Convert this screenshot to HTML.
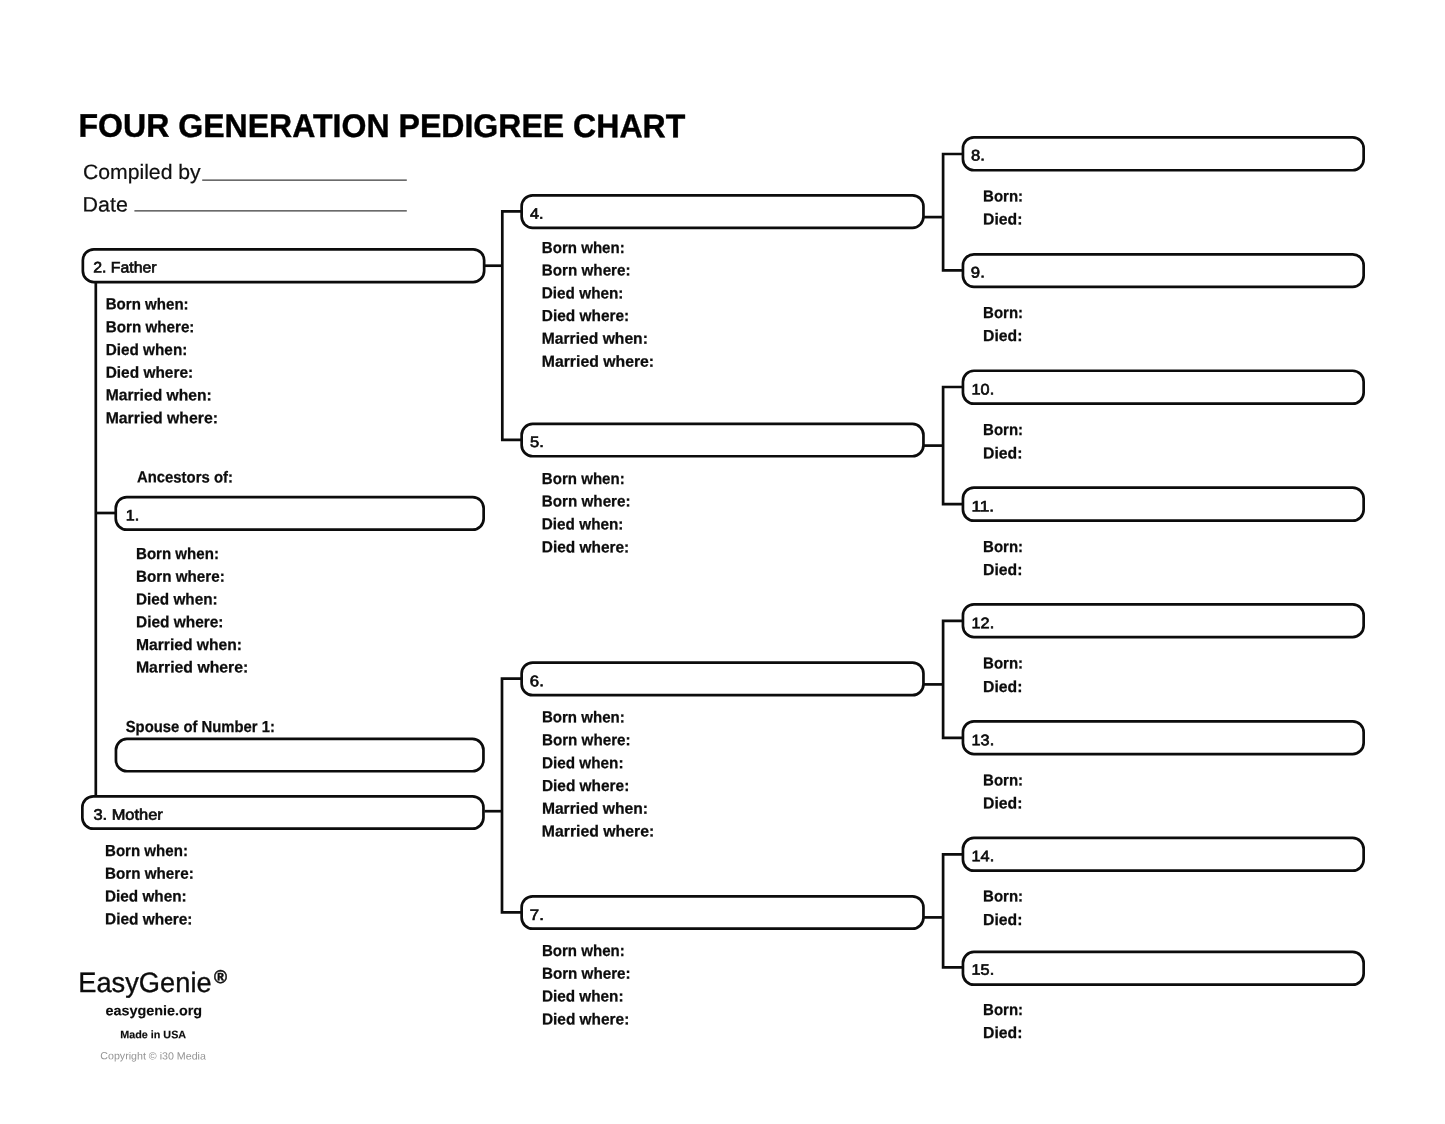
<!DOCTYPE html>
<html lang="en">
<head>
<meta charset="utf-8">
<title>Four Generation Pedigree Chart</title>
<style>
html,body{margin:0;padding:0;background:#fff;}
body{width:1445px;height:1124px;overflow:hidden;}
svg{display:block;will-change:transform;}
text{font-family:"Liberation Sans",sans-serif;fill:#0c0c0c;}
.l{font-size:16px;font-weight:bold;}
.n{font-size:15.3px;}
.title{font-size:32.7px;font-weight:bold;}
.hd{font-size:20.8px;}
.brand{font-size:28.0px;}
.reg{font-size:18.5px;font-weight:bold;}
.url{font-size:13.9px;font-weight:bold;}
.made{font-size:10.9px;font-weight:bold;}
.copy{font-size:10.4px;}
.l{stroke:#0c0c0c;stroke-width:0.25px;}
.n{stroke:#0c0c0c;stroke-width:0.65px;}
.brand{stroke:#0c0c0c;stroke-width:0.35px;}
.url{stroke:#0c0c0c;stroke-width:0.15px;}
.made{stroke:#0c0c0c;stroke-width:0.15px;}
.reg{stroke:#0c0c0c;stroke-width:0.5px;}
.hd{stroke:#0c0c0c;stroke-width:0.2px;}
.title{stroke:#000;stroke-width:0.4px;}

.title{fill:#000;}
.hd{fill:#111;}
.copy{fill:#949494;}
</style>
</head>
<body>
<svg width="1445" height="1124" viewBox="0 0 1445 1124">
<rect x="0" y="0" width="1445" height="1124" fill="#ffffff"/>
<g fill="none" stroke="#0c0c0c" stroke-width="2.7" stroke-linejoin="miter">
<rect x="82.85" y="249.35" width="401.30" height="32.70" rx="11" ry="11"/>
<rect x="115.75" y="497.15" width="367.90" height="32.50" rx="11" ry="11"/>
<rect x="115.95" y="738.95" width="367.50" height="32.30" rx="11" ry="11"/>
<rect x="82.35" y="796.35" width="401.10" height="32.30" rx="11" ry="11"/>
<path d="M95.80 283.00L95.80 796.00"/>
<path d="M95.80 513.00L115.00 513.00"/>
<path d="M485.00 265.70L502.30 265.70"/>
<path d="M521.00 211.40L502.30 211.40L502.30 439.80L521.00 439.80"/>
<path d="M484.50 811.20L502.00 811.20"/>
<path d="M521.00 678.70L502.00 678.70L502.00 912.30L521.00 912.30"/>
<rect x="521.65" y="195.35" width="401.80" height="32.50" rx="11" ry="11"/>
<rect x="521.65" y="423.95" width="401.80" height="32.30" rx="11" ry="11"/>
<rect x="521.65" y="662.55" width="401.80" height="32.60" rx="11" ry="11"/>
<rect x="521.65" y="896.35" width="401.80" height="32.30" rx="11" ry="11"/>
<rect x="962.95" y="137.35" width="400.70" height="32.90" rx="11" ry="11"/>
<rect x="962.95" y="254.35" width="400.70" height="32.50" rx="11" ry="11"/>
<rect x="962.95" y="370.75" width="400.70" height="32.90" rx="11" ry="11"/>
<rect x="962.95" y="487.55" width="400.70" height="33.10" rx="11" ry="11"/>
<rect x="962.95" y="604.35" width="400.70" height="32.70" rx="11" ry="11"/>
<rect x="962.95" y="721.35" width="400.70" height="32.70" rx="11" ry="11"/>
<rect x="962.95" y="837.95" width="400.70" height="32.70" rx="11" ry="11"/>
<rect x="962.95" y="951.95" width="400.70" height="32.70" rx="11" ry="11"/>
<path d="M924.00 217.10L943.10 217.10"/>
<path d="M962.40 154.00L943.10 154.00L943.10 270.30L962.40 270.30"/>
<path d="M924.00 445.60L943.10 445.60"/>
<path d="M962.40 387.00L943.10 387.00L943.10 504.20L962.40 504.20"/>
<path d="M924.00 684.40L943.10 684.40"/>
<path d="M962.40 620.90L943.10 620.90L943.10 737.80L962.40 737.80"/>
<path d="M924.00 917.40L943.10 917.40"/>
<path d="M962.40 854.40L943.10 854.40L943.10 967.40L962.40 967.40"/>
</g>
<g fill="none" stroke="#3a3a3a" stroke-width="1.2">
<path d="M202.20 180.20L406.80 180.20"/>
<path d="M134.40 210.90L406.80 210.90"/>
</g>
<text class="title" transform="matrix(1 0.0006 0 1 0 -0.2291)" x="78.46" y="137" textLength="606.88" lengthAdjust="spacingAndGlyphs">FOUR GENERATION PEDIGREE CHART</text>
<text class="hd" transform="matrix(1 0.0006 0 1 0 -0.0851)" x="82.92" y="179" textLength="117.82" lengthAdjust="spacingAndGlyphs">Compiled by</text>
<text class="hd" transform="matrix(1 0.0006 0 1 0 -0.0631)" x="82.54" y="211.5" textLength="45.31" lengthAdjust="spacingAndGlyphs">Date</text>
<text class="n" transform="matrix(1 0.0006 0 1 0 -0.0749)" x="93.23" y="272.5" textLength="63.31" lengthAdjust="spacingAndGlyphs">2. Father</text>
<text class="l" transform="matrix(1 0.0006 0 1 0 -0.0883)" x="105.72" y="309.4" textLength="82.91" lengthAdjust="spacingAndGlyphs">Born when:</text>
<text class="l" transform="matrix(1 0.0006 0 1 0 -0.0900)" x="105.71" y="332.2" textLength="88.73" lengthAdjust="spacingAndGlyphs">Born where:</text>
<text class="l" transform="matrix(1 0.0006 0 1 0 -0.0879)" x="105.70" y="355" textLength="81.65" lengthAdjust="spacingAndGlyphs">Died when:</text>
<text class="l" transform="matrix(1 0.0006 0 1 0 -0.0897)" x="105.69" y="377.7" textLength="87.47" lengthAdjust="spacingAndGlyphs">Died where:</text>
<text class="l" transform="matrix(1 0.0006 0 1 0 -0.0952)" x="105.68" y="400.4" textLength="106.10" lengthAdjust="spacingAndGlyphs">Married when:</text>
<text class="l" transform="matrix(1 0.0006 0 1 0 -0.0971)" x="105.67" y="423.2" textLength="112.33" lengthAdjust="spacingAndGlyphs">Married where:</text>
<text class="l" transform="matrix(1 0.0006 0 1 0 -0.1110)" x="136.95" y="482.4" textLength="95.95" lengthAdjust="spacingAndGlyphs">Ancestors of:</text>
<text class="n" transform="matrix(1 0.0006 0 1 0 -0.0795)" x="125.80" y="520.4" textLength="13.45" lengthAdjust="spacingAndGlyphs">1.</text>
<text class="l" transform="matrix(1 0.0006 0 1 0 -0.1065)" x="136.02" y="559" textLength="82.91" lengthAdjust="spacingAndGlyphs">Born when:</text>
<text class="l" transform="matrix(1 0.0006 0 1 0 -0.1082)" x="136.01" y="581.7" textLength="88.73" lengthAdjust="spacingAndGlyphs">Born where:</text>
<text class="l" transform="matrix(1 0.0006 0 1 0 -0.1061)" x="136.00" y="604.5" textLength="81.65" lengthAdjust="spacingAndGlyphs">Died when:</text>
<text class="l" transform="matrix(1 0.0006 0 1 0 -0.1078)" x="135.99" y="627.2" textLength="87.47" lengthAdjust="spacingAndGlyphs">Died where:</text>
<text class="l" transform="matrix(1 0.0006 0 1 0 -0.1134)" x="135.98" y="650" textLength="106.10" lengthAdjust="spacingAndGlyphs">Married when:</text>
<text class="l" transform="matrix(1 0.0006 0 1 0 -0.1153)" x="135.97" y="672.6" textLength="112.33" lengthAdjust="spacingAndGlyphs">Married where:</text>
<text class="l" transform="matrix(1 0.0006 0 1 0 -0.1202)" x="125.70" y="732" textLength="149.20" lengthAdjust="spacingAndGlyphs">Spouse of Number 1:</text>
<text class="n" transform="matrix(1 0.0006 0 1 0 -0.0769)" x="93.40" y="819.7" textLength="69.45" lengthAdjust="spacingAndGlyphs">3. Mother</text>
<text class="l" transform="matrix(1 0.0006 0 1 0 -0.0879)" x="105.02" y="856" textLength="82.91" lengthAdjust="spacingAndGlyphs">Born when:</text>
<text class="l" transform="matrix(1 0.0006 0 1 0 -0.0896)" x="105.01" y="878.8" textLength="88.73" lengthAdjust="spacingAndGlyphs">Born where:</text>
<text class="l" transform="matrix(1 0.0006 0 1 0 -0.0875)" x="105.00" y="901.6" textLength="81.65" lengthAdjust="spacingAndGlyphs">Died when:</text>
<text class="l" transform="matrix(1 0.0006 0 1 0 -0.0892)" x="104.99" y="924.4" textLength="87.47" lengthAdjust="spacingAndGlyphs">Died where:</text>
<text class="n" transform="matrix(1 0.0006 0 1 0 -0.3220)" x="529.95" y="218.8" textLength="13.50" lengthAdjust="spacingAndGlyphs">4.</text>
<text class="l" transform="matrix(1 0.0006 0 1 0 -0.3500)" x="541.82" y="253" textLength="82.91" lengthAdjust="spacingAndGlyphs">Born when:</text>
<text class="l" transform="matrix(1 0.0006 0 1 0 -0.3517)" x="541.81" y="275.6" textLength="88.73" lengthAdjust="spacingAndGlyphs">Born where:</text>
<text class="l" transform="matrix(1 0.0006 0 1 0 -0.3496)" x="541.80" y="298.4" textLength="81.65" lengthAdjust="spacingAndGlyphs">Died when:</text>
<text class="l" transform="matrix(1 0.0006 0 1 0 -0.3513)" x="541.79" y="321" textLength="87.47" lengthAdjust="spacingAndGlyphs">Died where:</text>
<text class="l" transform="matrix(1 0.0006 0 1 0 -0.3569)" x="541.78" y="343.8" textLength="106.10" lengthAdjust="spacingAndGlyphs">Married when:</text>
<text class="l" transform="matrix(1 0.0006 0 1 0 -0.3588)" x="541.77" y="366.8" textLength="112.33" lengthAdjust="spacingAndGlyphs">Married where:</text>
<text class="n" transform="matrix(1 0.0006 0 1 0 -0.3222)" x="530.06" y="447.1" textLength="13.83" lengthAdjust="spacingAndGlyphs">5.</text>
<text class="l" transform="matrix(1 0.0006 0 1 0 -0.3500)" x="541.82" y="484" textLength="82.91" lengthAdjust="spacingAndGlyphs">Born when:</text>
<text class="l" transform="matrix(1 0.0006 0 1 0 -0.3517)" x="541.81" y="506.6" textLength="88.73" lengthAdjust="spacingAndGlyphs">Born where:</text>
<text class="l" transform="matrix(1 0.0006 0 1 0 -0.3496)" x="541.80" y="529.4" textLength="81.65" lengthAdjust="spacingAndGlyphs">Died when:</text>
<text class="l" transform="matrix(1 0.0006 0 1 0 -0.3513)" x="541.79" y="552.4" textLength="87.47" lengthAdjust="spacingAndGlyphs">Died where:</text>
<text class="n" transform="matrix(1 0.0006 0 1 0 -0.3221)" x="529.87" y="686.3" textLength="14.04" lengthAdjust="spacingAndGlyphs">6.</text>
<text class="l" transform="matrix(1 0.0006 0 1 0 -0.3500)" x="541.92" y="722.4" textLength="82.91" lengthAdjust="spacingAndGlyphs">Born when:</text>
<text class="l" transform="matrix(1 0.0006 0 1 0 -0.3518)" x="541.91" y="745.2" textLength="88.73" lengthAdjust="spacingAndGlyphs">Born where:</text>
<text class="l" transform="matrix(1 0.0006 0 1 0 -0.3496)" x="541.90" y="768.2" textLength="81.65" lengthAdjust="spacingAndGlyphs">Died when:</text>
<text class="l" transform="matrix(1 0.0006 0 1 0 -0.3514)" x="541.89" y="791" textLength="87.47" lengthAdjust="spacingAndGlyphs">Died where:</text>
<text class="l" transform="matrix(1 0.0006 0 1 0 -0.3570)" x="541.88" y="813.8" textLength="106.10" lengthAdjust="spacingAndGlyphs">Married when:</text>
<text class="l" transform="matrix(1 0.0006 0 1 0 -0.3588)" x="541.87" y="836.6" textLength="112.33" lengthAdjust="spacingAndGlyphs">Married where:</text>
<text class="n" transform="matrix(1 0.0006 0 1 0 -0.3221)" x="529.86" y="920.1" textLength="14.05" lengthAdjust="spacingAndGlyphs">7.</text>
<text class="l" transform="matrix(1 0.0006 0 1 0 -0.3500)" x="541.92" y="956" textLength="82.91" lengthAdjust="spacingAndGlyphs">Born when:</text>
<text class="l" transform="matrix(1 0.0006 0 1 0 -0.3518)" x="541.91" y="978.8" textLength="88.73" lengthAdjust="spacingAndGlyphs">Born where:</text>
<text class="l" transform="matrix(1 0.0006 0 1 0 -0.3496)" x="541.90" y="1001.6" textLength="81.65" lengthAdjust="spacingAndGlyphs">Died when:</text>
<text class="l" transform="matrix(1 0.0006 0 1 0 -0.3514)" x="541.89" y="1024.5" textLength="87.47" lengthAdjust="spacingAndGlyphs">Died where:</text>
<text class="n" transform="matrix(1 0.0006 0 1 0 -0.5867)" x="970.90" y="160.6" textLength="13.90" lengthAdjust="spacingAndGlyphs">8.</text>
<text class="l" transform="matrix(1 0.0006 0 1 0 -0.6019)" x="983.12" y="201.4" textLength="40.00" lengthAdjust="spacingAndGlyphs">Born:</text>
<text class="l" transform="matrix(1 0.0006 0 1 0 -0.6017)" x="983.07" y="224.6" textLength="39.42" lengthAdjust="spacingAndGlyphs">Died:</text>
<text class="n" transform="matrix(1 0.0006 0 1 0 -0.5867)" x="970.84" y="277.6" textLength="13.96" lengthAdjust="spacingAndGlyphs">9.</text>
<text class="l" transform="matrix(1 0.0006 0 1 0 -0.6019)" x="983.12" y="318" textLength="40.00" lengthAdjust="spacingAndGlyphs">Born:</text>
<text class="l" transform="matrix(1 0.0006 0 1 0 -0.6017)" x="983.07" y="341" textLength="39.42" lengthAdjust="spacingAndGlyphs">Died:</text>
<text class="n" transform="matrix(1 0.0006 0 1 0 -0.5897)" x="971.59" y="394.6" textLength="22.57" lengthAdjust="spacingAndGlyphs">10.</text>
<text class="l" transform="matrix(1 0.0006 0 1 0 -0.6019)" x="983.12" y="435" textLength="40.00" lengthAdjust="spacingAndGlyphs">Born:</text>
<text class="l" transform="matrix(1 0.0006 0 1 0 -0.6017)" x="983.07" y="458.4" textLength="39.42" lengthAdjust="spacingAndGlyphs">Died:</text>
<text class="n" transform="matrix(1 0.0006 0 1 0 -0.5897)" x="971.59" y="511.6" textLength="22.57" lengthAdjust="spacingAndGlyphs">11.</text>
<text class="l" transform="matrix(1 0.0006 0 1 0 -0.6019)" x="983.12" y="552" textLength="40.00" lengthAdjust="spacingAndGlyphs">Born:</text>
<text class="l" transform="matrix(1 0.0006 0 1 0 -0.6017)" x="983.07" y="575" textLength="39.42" lengthAdjust="spacingAndGlyphs">Died:</text>
<text class="n" transform="matrix(1 0.0006 0 1 0 -0.5897)" x="971.59" y="628.3" textLength="22.57" lengthAdjust="spacingAndGlyphs">12.</text>
<text class="l" transform="matrix(1 0.0006 0 1 0 -0.6019)" x="983.12" y="668.6" textLength="40.00" lengthAdjust="spacingAndGlyphs">Born:</text>
<text class="l" transform="matrix(1 0.0006 0 1 0 -0.6017)" x="983.07" y="692" textLength="39.42" lengthAdjust="spacingAndGlyphs">Died:</text>
<text class="n" transform="matrix(1 0.0006 0 1 0 -0.5897)" x="971.59" y="745.2" textLength="22.57" lengthAdjust="spacingAndGlyphs">13.</text>
<text class="l" transform="matrix(1 0.0006 0 1 0 -0.6019)" x="983.12" y="785.6" textLength="40.00" lengthAdjust="spacingAndGlyphs">Born:</text>
<text class="l" transform="matrix(1 0.0006 0 1 0 -0.6017)" x="983.07" y="808.4" textLength="39.42" lengthAdjust="spacingAndGlyphs">Died:</text>
<text class="n" transform="matrix(1 0.0006 0 1 0 -0.5897)" x="971.59" y="861.3" textLength="22.57" lengthAdjust="spacingAndGlyphs">14.</text>
<text class="l" transform="matrix(1 0.0006 0 1 0 -0.6019)" x="983.12" y="901.6" textLength="40.00" lengthAdjust="spacingAndGlyphs">Born:</text>
<text class="l" transform="matrix(1 0.0006 0 1 0 -0.6017)" x="983.07" y="925" textLength="39.42" lengthAdjust="spacingAndGlyphs">Died:</text>
<text class="n" transform="matrix(1 0.0006 0 1 0 -0.5897)" x="971.59" y="974.7" textLength="22.57" lengthAdjust="spacingAndGlyphs">15.</text>
<text class="l" transform="matrix(1 0.0006 0 1 0 -0.6019)" x="983.12" y="1015" textLength="40.00" lengthAdjust="spacingAndGlyphs">Born:</text>
<text class="l" transform="matrix(1 0.0006 0 1 0 -0.6017)" x="983.07" y="1038" textLength="39.42" lengthAdjust="spacingAndGlyphs">Died:</text>
<text class="brand" transform="matrix(1 0.0006 0 1 0 -0.0870)" x="78.24" y="992.0" textLength="133.40" lengthAdjust="spacingAndGlyphs">EasyGenie</text>
<text class="reg" transform="matrix(1 0.0006 0 1 0 -0.1324)" x="214.07" y="983.1" textLength="13.04" lengthAdjust="spacingAndGlyphs">®</text>
<text class="url" transform="matrix(1 0.0006 0 1 0 -0.0923)" x="105.41" y="1015.2" textLength="96.67" lengthAdjust="spacingAndGlyphs">easygenie.org</text>
<text class="made" transform="matrix(1 0.0006 0 1 0 -0.0919)" x="120.25" y="1038.2" textLength="65.85" lengthAdjust="spacingAndGlyphs">Made in USA</text>
<text class="copy" transform="matrix(1 0.0006 0 1 0 -0.0918)" x="100.26" y="1059.4" textLength="105.64" lengthAdjust="spacingAndGlyphs">Copyright © i30 Media</text>
</svg>
</body>
</html>
